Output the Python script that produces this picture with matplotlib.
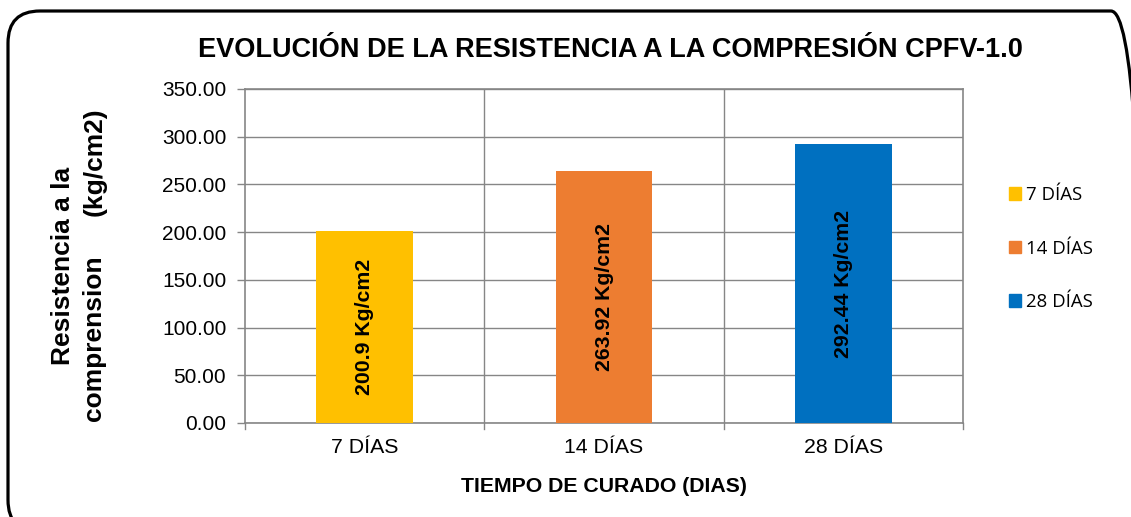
import matplotlib
matplotlib.use("Agg")
import matplotlib.pyplot as plt
from matplotlib.patches import FancyBboxPatch, Patch
from matplotlib.transforms import IdentityTransform

categories = ["7 DÍAS", "14 DÍAS", "28 DÍAS"]
values = [200.9, 263.92, 292.44]
bar_labels = ["200.9 Kg/cm2", "263.92 Kg/cm2", "292.44 Kg/cm2"]
colors = ["#FFC000", "#ED7D31", "#0070C0"]
yticks = [0, 50, 100, 150, 200, 250, 300, 350]

plt.rcParams['font.family'] = ['Liberation Sans', 'DejaVu Sans']

W, H = 1131, 517
fig = plt.figure(figsize=(W/100, H/100), dpi=100)
ax = fig.add_axes([245/W, 1-423/H, (963-245)/W, (423-89)/H])

# rounded border (pixel coordinates, origin bottom-left)
border = FancyBboxPatch((8, H-532), 1143-8, 532-11,
                        boxstyle="round,pad=0,rounding_size=32",
                        transform=IdentityTransform(), fill=False, lw=2.3,
                        edgecolor="black", clip_on=False)
fig.patches.append(border)

x = list(range(len(categories)))
bars = ax.bar(x, values, width=0.405, color=colors, zorder=3)
for xi, v, lab in zip(x, values, bar_labels):
    ax.text(xi, v/2, lab, rotation=90, ha="center", va="center",
            fontsize=15.3, fontweight="bold", color="black", zorder=4)

ax.set_xlim(-0.5, 2.5)
ax.set_ylim(0, 350)
ax.set_yticks(yticks)
ax.set_yticklabels([f"{t:.2f}" for t in yticks], fontsize=15)
ax.set_xticks(x)
ax.set_xticklabels(categories, fontsize=15.3)
ax.tick_params(axis="x", length=0, pad=11)
ax.tick_params(axis="y", length=5.5, color="#868686", width=1, pad=8)

# grid
for t in yticks:
    ax.axhline(t, color="#868686", lw=1, zorder=1)
for b in [0.5, 1.5]:
    ax.axvline(b, color="#868686", lw=1, zorder=1)
# category tick marks below
for b in [-0.5, 0.5, 1.5, 2.5]:
    ax.plot([b, b], [0, -6], color="#868686", lw=1, clip_on=False, zorder=1)

for s in ["top", "right", "bottom", "left"]:
    ax.spines[s].set_color("#868686")
    ax.spines[s].set_linewidth(1.2)

ax.set_xlabel("TIEMPO DE CURADO (DIAS)", fontsize=15.3, fontweight="bold", labelpad=14)

# y-axis title (two lines, rotated)
fig.text(63/W, 1-266/H, "Resistencia a la", rotation=90,
         ha="center", va="center", fontsize=19, fontweight="bold")
fig.text(94/W, 1-338/H, "comprension", rotation=90,
         ha="center", va="center", fontsize=19, fontweight="bold")
fig.text(95/W, 1-162/H, "(kg/cm2)", rotation=90,
         ha="center", va="center", fontsize=19, fontweight="bold")

fig.text(610/W, 1-50/H, "EVOLUCIÓN DE LA RESISTENCIA A LA COMPRESIÓN CPFV-1.0",
         ha="center", va="center", fontsize=19.5, fontweight="bold")

handles = [Patch(facecolor=c, edgecolor=c) for c in colors]
leg = fig.legend(handles, categories, loc="center left",
                 bbox_to_anchor=(1009/W, 1-248.5/H), frameon=False,
                 prop={"family": ["Open Sans", "DejaVu Sans"], "size": 13.4},
                 handlelength=0.65, handleheight=0.65, handletextpad=0.27,
                 labelspacing=1.9, borderpad=0, borderaxespad=0)

fig.savefig("out.png", dpi=100)
